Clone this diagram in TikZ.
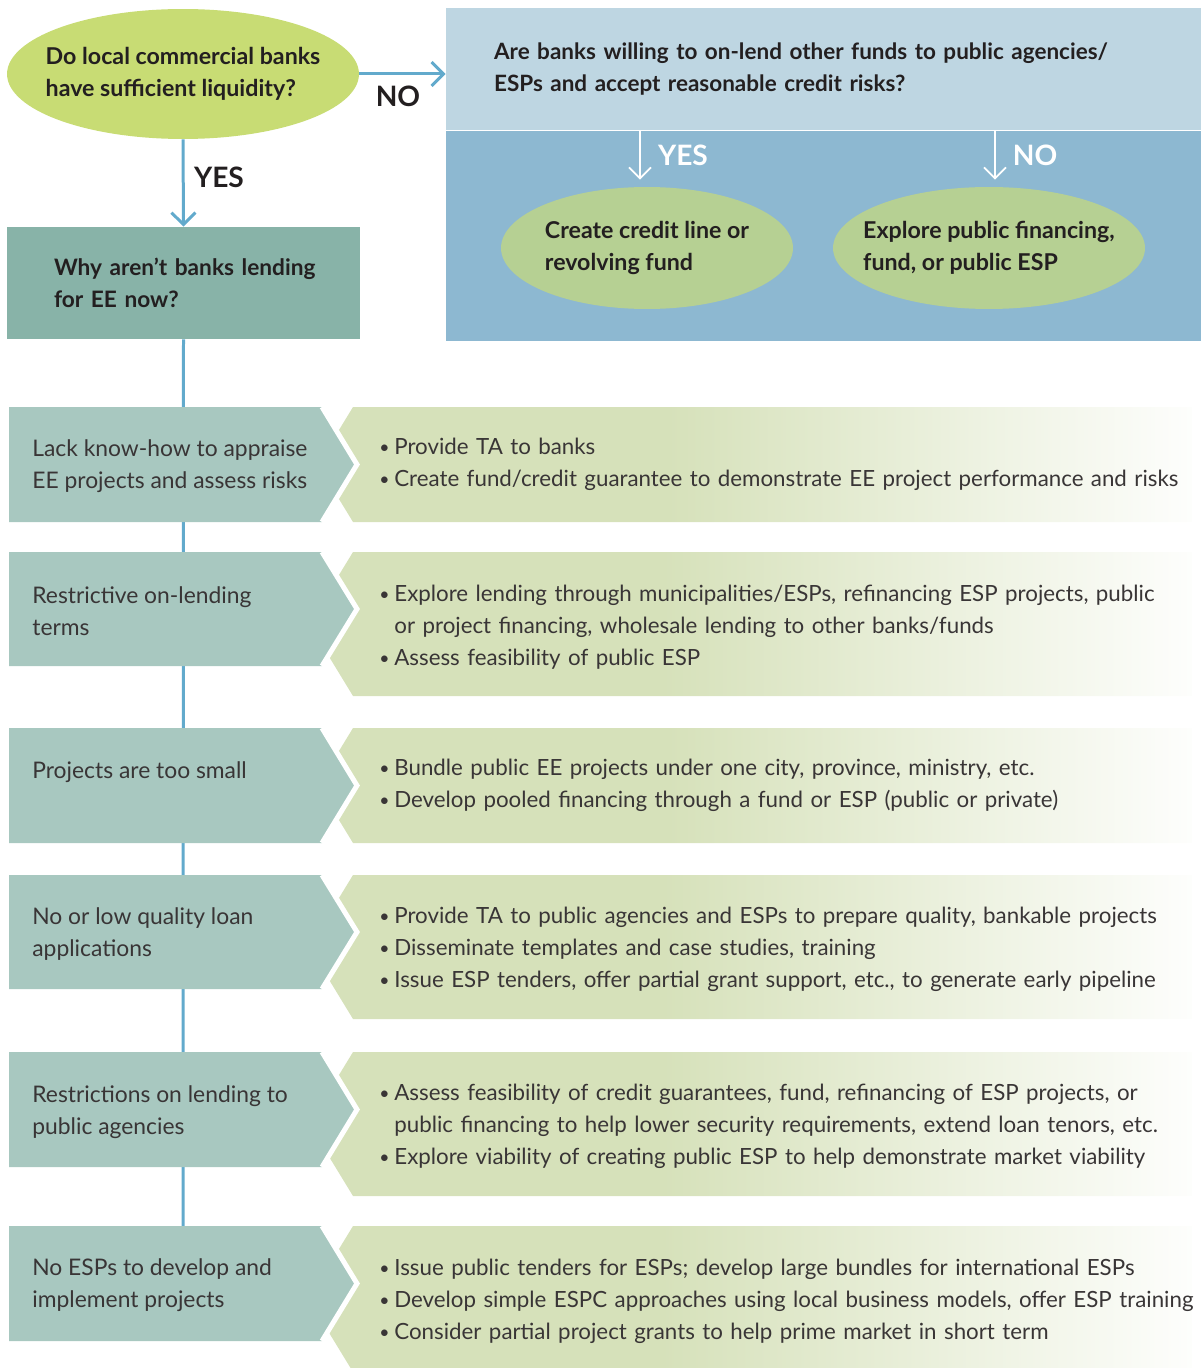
\documentclass[tikz,border=0pt]{standalone}
\usepackage{fontspec}
\setmainfont{Lato}
\usetikzlibrary{arrows.meta,positioning,shapes.geometric,backgrounds}
\definecolor{ink}{HTML}{231F20}
\definecolor{lime}{HTML}{C8DC74}
\definecolor{sage}{HTML}{88B3A8}
\definecolor{mist}{HTML}{BED6E2}
\definecolor{sky}{HTML}{8DB8D1}
\definecolor{moss}{HTML}{B6D093}
\definecolor{causebg}{HTML}{A8C8C0}
\definecolor{fixbg}{HTML}{D6E1BA}
\definecolor{wire}{HTML}{62AACC}
\pgfdeclarehorizontalshading{fixfade}{100bp}{color(0bp)=(fixbg); color(25bp)=(fixbg);
  color(45bp)=(fixbg); color(75bp)=(fixbg!4); color(100bp)=(fixbg!4)}
\newcommand{\fixitem}{\par\hangindent=0.3cm\hangafter=1\noindent
  \makebox[0.3cm][l]{\raisebox{0.6pt}{\fontsize{10}{10}\selectfont\textbullet}}}

\begin{document}
\begin{tikzpicture}[
   x=0.02cm, y=-0.02cm,
   font=\fontsize{12.7}{18.2}\selectfont, text=ink,
   quest/.style={ellipse, fill=lime, inner xsep=-0.5cm, inner ysep=0pt, align=left,
                 font=\fontsize{13.2}{18.2}\selectfont\bfseries},
   box/.style={fill=sage, inner xsep=0.94cm, inner ysep=0pt, text width=5.18cm,
               minimum height=2.24cm, align=left, font=\fontsize{12.9}{18.2}\selectfont\bfseries},
   ask/.style={fill=mist, inner xsep=0.96cm, inner ysep=0pt, text width=13.18cm,
               minimum height=2.44cm, align=left, font=\fontsize{12.8}{18.2}\selectfont\bfseries},
   opt/.style={ellipse, fill=moss, inner xsep=-0.5cm, inner ysep=0pt, minimum height=2.44cm,
               align=left, font=\fontsize{13.2}{18.2}\selectfont\bfseries},
   yn/.style={font=\fontsize{16}{18}\selectfont\bfseries, inner sep=0pt},
   cause/.style={anchor=west, align=left, inner sep=0pt, text=ink!90,
                 font=\fontsize{13}{18.2}\selectfont},
   fix/.style={anchor=west, align=left, inner sep=0pt, text width=16.5cm, text=ink!90},
   flow/.style={-{Straight Barb[length=0.24cm, width=0.48cm]}, line width=0.06cm, color=wire},
   wflow/.style={-{Straight Barb[length=0.22cm, width=0.44cm]}, line width=0.035cm, color=white},
   link/.style={line width=0.06cm, color=wire},
]
  \useasboundingbox (0,0) rectangle (1201,1368);

  % top: liquidity question
  \node[quest, minimum width=7.04cm, minimum height=2.6cm] (liq) at (183,74)
       {Do local commercial banks\\have sufficient liquidity?};
  \node[box] (why) at (183.5,283) {\mbox{Why aren't banks lending}\\for EE now?};
  \draw[flow] (liq.south) -- (why.north);
  \node[yn] (yesA) at (219,177) {YES};

  % top right: on-lending panel
  \node[ask] (ask) at (823.5,69)
       {Are banks willing to on-lend other funds to public agencies/\\ESPs and accept reasonable credit risks?};
  \node[fill=sky, inner sep=0pt, minimum width=15.1cm, minimum height=4.2cm, below=0pt of ask] (opts) {};
  \draw[flow] (liq.east) -- (liq.east -| ask.west);
  \node[yn] (noA) at (398,96) {NO};

  \node[opt, minimum width=5.84cm] (line) at (647,248) {Create credit line or\\revolving fund};
  \node[opt, minimum width=6.24cm] (pub) at (989,248) {Explore public financing,\\fund, or public ESP};
  \draw[wflow] ([xshift=-0.14cm]line.north |- opts.north) -- ([xshift=-0.14cm, yshift=0.14cm]line.north);
  \draw[wflow] ([xshift=0.12cm]pub.north |- opts.north) -- ([xshift=0.12cm, yshift=0.14cm]pub.north);
  \node[yn, text=white] (yesB) at (683,155) {YES};
  \node[yn, text=white] (noB) at (1035,155) {NO};

  % barriers and responses
  \node[cause] (c1) at (32,466) {Lack know-how to appraise\\EE projects and assess risks};
  \node[cause] (c2) at (32,611) {Restrictive on-lending\\terms};
  \node[cause] (c3) at (32,772) {Projects are too small};
  \node[cause] (c4) at (32,934) {No or low quality loan\\applications};
  \node[cause] (c5) at (32,1112) {Restrictions on lending to\\public agencies};
  \node[cause] (c6) at (32,1285) {No ESPs to develop and\\implement projects};

  \node[fix] (f1) at (379,457) {\fixitem Provide TA to banks
    \fixitem Create fund/credit guarantee to demonstrate EE project performance and risks};
  \node[fix] (f2) at (379,619) {\fixitem Explore lending through municipalities/ESPs, refinancing ESP projects, public\hfil\break
    or project financing, wholesale lending to other banks/funds
    \fixitem Assess feasibility of public ESP};
  \node[fix] (f3) at (379,778) {\fixitem Bundle public EE projects under one city, province, ministry, etc.
    \fixitem Develop pooled financing through a fund or ESP (public or private)};
  \node[fix] (f4) at (379,942) {\fixitem Provide TA to public agencies and ESPs to prepare quality, bankable projects
    \fixitem Disseminate templates and case studies, training
    \fixitem Issue ESP tenders, offer partial grant support, etc., to generate early pipeline};
  \node[fix] (f5) at (379,1119) {\fixitem Assess feasibility of credit guarantees, fund, refinancing of ESP projects, or\hfil\break
    public financing to help lower security requirements, extend loan tenors, etc.
    \fixitem Explore viability of creating public ESP to help demonstrate market viability};
  \node[fix] (f6) at (379,1294) {\fixitem Issue public tenders for ESPs; develop large bundles for international ESPs
    \fixitem Develop simple ESPC approaches using local business models, offer ESP training
    \fixitem Consider partial project grants to help prime market in short term};

  \coordinate (stem) at (183,1226);
  \begin{scope}[on background layer]
    \draw[link] (why.south) -- (stem);
    % rows: top / teal bottom / green bottom
    \foreach \t/\tb/\gb in {407/522/522, 552/666/696, 728/843/843,
                            875/989/1019, 1052/1167/1196, 1226/1341/1372}{
      \shade[shading=fixfade] (353,\t) -- (1192,\t) -- (1192,\gb) -- (353,\gb)
            -- ({353-0.305*(\gb-\t)},{(\t+\gb)/2}) -- cycle;
      \fill[causebg] (9,\t) -- (322,\t) -- (357,{(\t+\tb)/2}) -- (322,\tb) -- (9,\tb) -- cycle;
      \draw[white, line width=0.1cm] (322,\t) -- (357,{(\t+\tb)/2}) -- (322,\tb);
    }
  \end{scope}
\end{tikzpicture}
\end{document}
